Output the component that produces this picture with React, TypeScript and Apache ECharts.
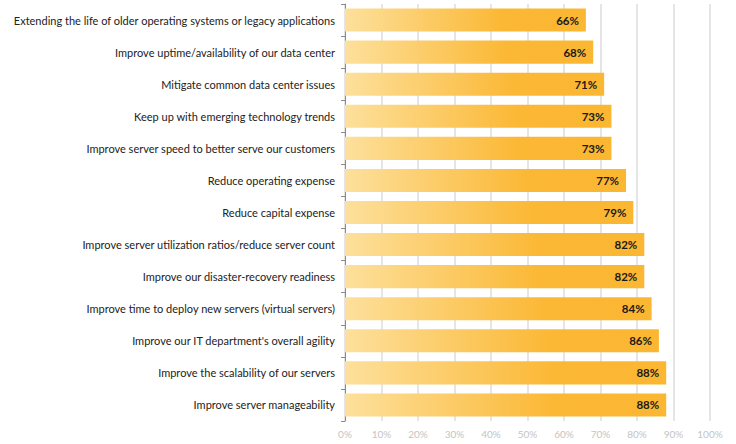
import React, { useEffect, useRef } from "react";
import * as echarts from "echarts";

const categories = [
  "Extending the life of older operating systems or legacy applications",
  "Improve uptime/availability of our data center",
  "Mitigate common data center issues",
  "Keep up with emerging technology trends",
  "Improve server speed to better serve our customers",
  "Reduce operating expense",
  "Reduce capital expense",
  "Improve server utilization ratios/reduce server count",
  "Improve our disaster-recovery readiness",
  "Improve time to deploy new servers (virtual servers)",
  "Improve our IT department's overall agility",
  "Improve the scalability of our servers",
  "Improve server manageability",
];
const values = [66, 68, 71, 73, 73, 77, 79, 82, 82, 84, 86, 88, 88];

export default function App() {
  const ref = useRef<HTMLDivElement>(null);
  useEffect(() => {
    if (!ref.current) return;
    const chart = echarts.init(ref.current, null, { renderer: "svg" });
    chart.setOption({
      animation: false,
      grid: {
        left: 345,
        right: 26,
        top: 4,
        bottom: 23,
        containLabel: false,
        outerBoundsMode: "none",
      },
      xAxis: {
        type: "value",
        min: 0,
        max: 100,
        interval: 10,
        axisLine: { show: false },
        axisTick: { show: false },
        axisLabel: {
          formatter: "{value}%",
          color: "#c4c4c4",
          fontSize: 10,
          fontFamily: "Lato",
          margin: 8,
        },
        splitLine: { show: true, lineStyle: { color: "#dcdcdc", width: 1.5 } },
      },
      yAxis: {
        type: "category",
        data: categories,
        inverse: true,
        axisLine: { show: true, lineStyle: { color: "#8a8a8a", width: 1 } },
        axisTick: { show: true, length: 4, lineStyle: { color: "#8a8a8a" } },
        axisLabel: {
          color: "#222",
          fontSize: 11,
          fontFamily: "Lato",
          margin: 10,
        },
      },
      series: [
        {
          type: "bar",
          data: values,
          barCategoryGap: "28%",
          itemStyle: {
            color: new echarts.graphic.LinearGradient(0, 0, 1, 0, [
              { offset: 0, color: "#fde09c" },
              { offset: 0.65, color: "#fbb835" },
              { offset: 1, color: "#fbb732" },
            ]),
          },
          label: {
            show: true,
            position: "insideRight",
            formatter: "{c}%",
            color: "#1a1a1a",
            fontWeight: "bold",
            fontSize: 11.5,
            fontFamily: "Lato",
            distance: 7,
          },
        },
      ],
    });
    return () => chart.dispose();
  }, []);
  return <div ref={ref} style={{ width: 736, height: 444, position: "absolute", left: 0, top: 0 }} />;
}
